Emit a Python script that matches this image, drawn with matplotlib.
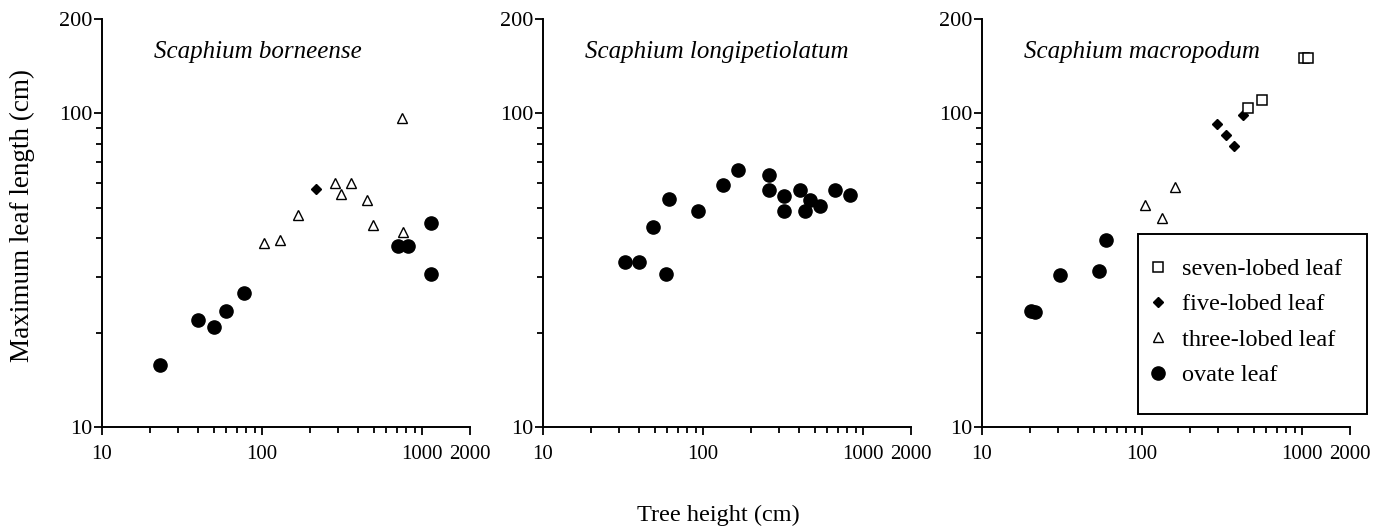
import numpy as np
import matplotlib
matplotlib.use('Agg')
import matplotlib.pyplot as plt
from matplotlib.ticker import FixedLocator, NullFormatter, FixedFormatter
from matplotlib.patches import Rectangle

plt.rcParams['font.family'] = ['Liberation Serif', 'DejaVu Serif']

species = ['Scaphium borneense', 'Scaphium longipetiolatum', 'Scaphium macropodum']

# S. borneense
bor_ovate_x = [23, 40, 50, 60, 77, 705, 820, 1140, 1140]
bor_ovate_y = [15.8, 22.0, 20.8, 23.5, 26.8, 37.8, 37.8, 44.8, 30.8]
bor_five_x = [217]
bor_five_y = [57.2]
bor_three_x = [103, 129, 168, 285, 310, 361, 455, 493, 753, 757]
bor_three_y = [38.5, 39.6, 47.6, 59.8, 55.3, 59.8, 52.8, 44.0, 96.4, 41.9]

# S. longipetiolatum
lon_ovate_x = [32.5, 40, 49, 61, 59, 93, 134, 166, 258, 258, 321, 321, 402, 464, 432, 539, 667, 832]
lon_ovate_y = [33.7, 33.7, 43.3, 53.5, 30.7, 48.9, 59.0, 66.1, 63.5, 56.9, 54.7, 48.9, 56.9, 53.1, 48.9, 50.7, 56.9, 54.8]

# S. macropodum
mac_ovate_x = [20.3, 21.6, 30.8, 54, 60]
mac_ovate_y = [23.5, 23.2, 30.5, 31.5, 39.5]
mac_three_x = [104, 133, 161]
mac_three_y = [51.2, 46.4, 58.2]
mac_five_x = [295, 336, 378, 428]
mac_five_y = [92.7, 85.5, 78.9, 98.8]
mac_seven_x = [460, 566, 1030, 1085]
mac_seven_y = [104, 110, 150, 150]

x_ticks = [10, 100, 1000, 2000]
y_ticks = [10, 100, 200]

fig = plt.figure(figsize=(13.75, 5.27), dpi=100)
lefts = [102, 543, 982]
axes = []
for l in lefts:
    axes.append(fig.add_axes([l / 1375, 1 - 427 / 527, 368 / 1375, 408 / 527]))

def ovate(ax, x, y, lab=None):
    return ax.plot(x, y, 'o', color='k', ms=9.5, ls='none', label=lab)[0]

def three(ax, x, y, lab=None):
    return ax.plot(x, y, '^', mfc='white', mec='k', mew=1.0, ms=7, ls='none', label=lab)[0]

def five(ax, x, y, lab=None):
    return ax.plot(x, y, 'D', color='k', ms=5.5, ls='none', label=lab)[0]

def seven(ax, x, y, lab=None):
    return ax.plot(x, y, 's', mfc='white', mec='k', mew=1.1, ms=7.5, ls='none', label=lab)[0]

ovate(axes[0], bor_ovate_x, bor_ovate_y)
five(axes[0], bor_five_x, bor_five_y)
three(axes[0], bor_three_x, bor_three_y)

ovate(axes[1], lon_ovate_x, lon_ovate_y)

h_o = ovate(axes[2], mac_ovate_x, mac_ovate_y, 'ovate leaf')
h_t = three(axes[2], mac_three_x, mac_three_y, 'three-lobed leaf')
h_f = five(axes[2], mac_five_x, mac_five_y, 'five-lobed leaf')
h_s = seven(axes[2], mac_seven_x, mac_seven_y, 'seven-lobed leaf')

title_x = [0.142, 0.114, 0.114]
for i, ax in enumerate(axes):
    ax.set_xscale('log')
    ax.set_yscale('log')
    ax.set_xlim(10, 2000)
    ax.set_ylim(10, 200)
    ax.spines['top'].set_visible(False)
    ax.spines['right'].set_visible(False)
    ax.spines['left'].set_linewidth(1.4)
    ax.spines['bottom'].set_linewidth(1.4)
    ax.xaxis.set_major_locator(FixedLocator(x_ticks))
    ax.xaxis.set_major_formatter(FixedFormatter([str(t) for t in x_ticks]))
    ax.xaxis.set_minor_locator(FixedLocator(list(range(20, 100, 10)) + list(range(200, 1000, 100))))
    ax.xaxis.set_minor_formatter(NullFormatter())
    ax.yaxis.set_major_locator(FixedLocator(y_ticks))
    ax.yaxis.set_major_formatter(FixedFormatter([str(t) for t in y_ticks]))
    ax.yaxis.set_minor_locator(FixedLocator(list(range(20, 100, 10))))
    ax.yaxis.set_minor_formatter(NullFormatter())
    ax.tick_params(which='major', length=6, width=1.3, direction='out')
    ax.tick_params(which='minor', length=4.5, width=1.3, direction='out')
    ax.tick_params(axis='y', which='major', pad=1, labelsize=16)
    ax.tick_params(axis='x', which='major', pad=7, labelsize=15)
    ax.text(title_x[i], 0.919, species[i], transform=ax.transAxes, style='italic',
            fontsize=18, ha='left', va='center')

# legend, frame drawn by hand
leg = fig.legend([h_s, h_f, h_t, h_o],
                 ['seven-lobed leaf', 'five-lobed leaf', 'three-lobed leaf', 'ovate leaf'],
                 loc='upper left', bbox_to_anchor=(1151 / 1375, 1 - 258 / 527),
                 frameon=False, fontsize=17.5, borderpad=0, borderaxespad=0,
                 handlelength=0.6, handletextpad=0.67, labelspacing=0.55)
fig.patches.append(Rectangle((1138 / 1375, 1 - 414 / 527), 229 / 1375, 180 / 527,
                             transform=fig.transFigure, fill=False, ec='k', lw=1.4))

fig.text(22 / 1375, 1 - 216 / 527, 'Maximum leaf length (cm)', rotation=90,
         fontsize=19.5, ha='center', va='center')
fig.text(718 / 1375, 1 - 515 / 527, 'Tree height (cm)', fontsize=17.5, ha='center', va='center')

plt.savefig('out.png', dpi=100)
plt.close()
